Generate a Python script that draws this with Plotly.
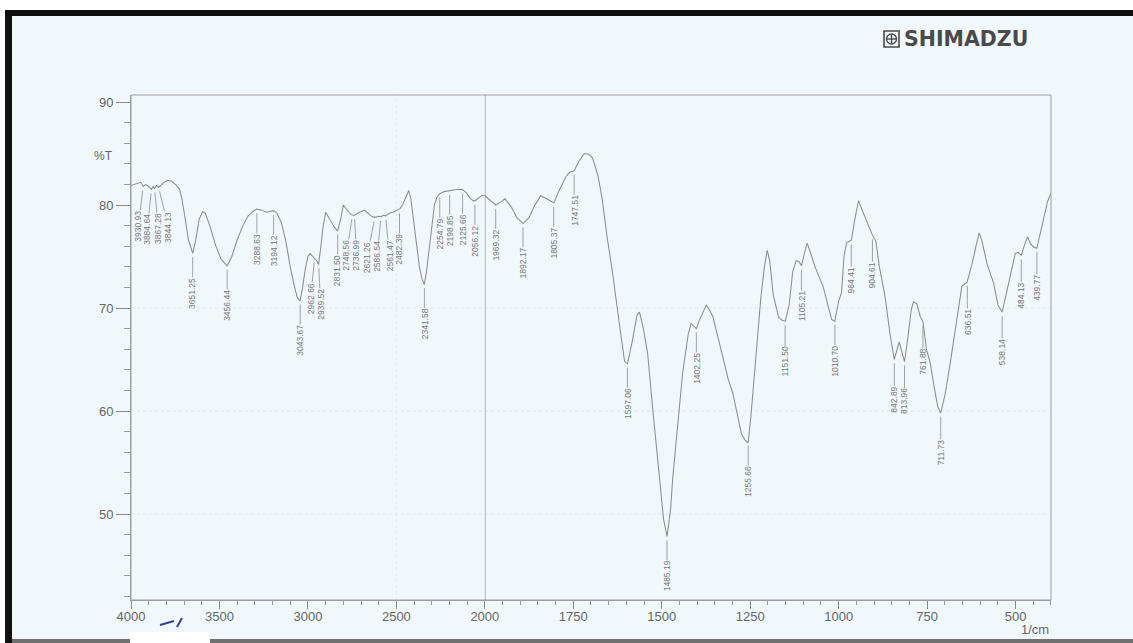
import numpy as np
import plotly.graph_objects as go

# FTIR spectrum (%T vs wavenumber, 1/cm)
wavenumber = [
    4000, 3965, 3945, 3931, 3915, 3895, 3885, 3875, 3867, 3856, 3844, 3820, 3795, 3770,
    3743, 3725, 3712, 3695, 3675, 3651, 3635, 3615, 3596, 3580, 3555, 3520, 3490, 3456,
    3430, 3400, 3370, 3340, 3310, 3289, 3260, 3236, 3215, 3194, 3175, 3150, 3125, 3100,
    3075, 3060, 3044, 3030, 3015, 3000, 2988, 2975, 2963, 2950, 2940, 2928, 2915, 2900,
    2885, 2860, 2845, 2832, 2815, 2800, 2785, 2765, 2749, 2737, 2720, 2700, 2682, 2660,
    2640, 2621, 2600, 2587, 2575, 2561, 2540, 2520, 2500, 2482, 2465, 2445, 2430, 2418,
    2405, 2390, 2370, 2355, 2342, 2330, 2315, 2300, 2285, 2270, 2255, 2230, 2199, 2160,
    2126, 2105, 2085, 2065, 2056, 2040, 2020, 2000,
    1985, 1969, 1955, 1943, 1925, 1910, 1892, 1875, 1860, 1842, 1825, 1805, 1790, 1771,
    1760, 1748, 1735, 1719, 1705, 1696, 1680, 1668, 1655, 1639, 1620, 1605, 1597, 1585,
    1570, 1563, 1552, 1540, 1525, 1507, 1495, 1485, 1475, 1469, 1455, 1441, 1425, 1417,
    1408, 1402, 1394, 1385, 1374, 1365, 1356, 1340, 1327, 1313, 1299, 1285, 1275, 1265,
    1256, 1248, 1240, 1230, 1220, 1210, 1202, 1195, 1185, 1170, 1160, 1151, 1140, 1130,
    1120, 1112, 1105, 1097, 1089, 1080, 1067, 1055, 1044, 1030, 1020, 1011, 1000, 992,
    985, 978, 964, 955, 944, 930, 915, 905, 895, 885, 869, 855, 843, 835,
    829, 822, 814, 805, 795, 789, 779, 770, 762, 752, 741, 730, 720, 712,
    700, 685, 670, 652, 637, 623, 612, 603, 595, 581, 562, 550, 538, 524,
    510, 501, 492, 484, 476, 466, 457, 448, 440, 425, 410, 400,
]
transmittance = [
    81.9, 82.1, 82.2, 81.8, 82.0, 81.7, 81.5, 81.8, 81.6, 81.9, 81.7, 82.1, 82.4, 82.3,
    81.9, 81.5, 80.6, 78.8, 76.6, 75.3, 76.5, 78.6, 79.35, 79.2, 78.0, 76.0, 74.7, 74.1,
    75.0, 76.6, 77.9, 78.9, 79.4, 79.6, 79.5, 79.3, 79.4, 79.45, 79.2, 78.3, 76.5, 74.0,
    72.0, 71.0, 70.7, 72.0, 73.8, 75.0, 75.3, 75.0, 74.8, 74.6, 74.2, 75.8, 77.8, 79.3,
    78.9, 78.2, 77.7, 77.5, 78.6, 80.0, 79.6, 79.2, 79.0, 79.0, 79.2, 79.4, 79.5, 79.2,
    78.9, 78.8, 78.9, 78.85, 79.0, 78.95, 79.2, 79.3, 79.5, 79.6, 80.0, 80.8, 81.4, 80.6,
    78.8, 76.5, 74.0, 72.8, 72.3, 73.5, 75.6, 78.0, 80.0, 80.8, 81.1, 81.3, 81.4, 81.5,
    81.5, 81.2, 80.7, 80.4, 80.4, 80.6, 80.9, 80.9,
    80.5, 80.0, 80.3, 80.6, 79.8, 78.8, 78.2, 78.8, 79.9, 80.9, 80.6, 80.2, 81.4, 82.75,
    83.2, 83.3, 84.2, 85.0, 84.9, 84.6, 82.8, 80.5, 77.0, 73.4, 68.5, 64.8, 64.6, 66.5,
    69.3, 69.6, 68.0, 65.6, 60.0, 53.5, 49.5, 47.8, 50.5, 53.5, 59.0, 63.7, 67.5, 68.5,
    68.2, 68.0, 68.8, 69.5, 70.3, 69.8, 69.2, 67.0, 65.3, 63.2, 61.7, 59.3, 57.8, 57.2,
    56.9, 59.5, 63.0, 67.0, 71.0, 74.0, 75.6, 74.6, 71.3, 69.1, 68.8, 68.7, 70.3, 73.5,
    74.6, 74.5, 74.1, 75.3, 76.3, 75.4, 74.0, 73.0, 72.1, 70.2, 68.9, 68.7, 70.7, 71.5,
    75.0, 76.3, 76.6, 78.5, 80.4, 79.2, 77.9, 77.1, 76.5, 74.0, 71.1, 67.5, 65.0, 66.0,
    66.7, 65.8, 64.8, 67.0, 69.8, 70.6, 70.4, 69.2, 68.7, 66.0, 64.6, 62.3, 60.4, 59.8,
    61.5, 64.6, 68.0, 72.1, 72.5, 74.3, 76.0, 77.3, 76.5, 74.3, 72.4, 70.3, 69.6, 71.75,
    73.8, 75.3, 75.4, 75.1, 76.0, 76.9, 76.2, 75.9, 75.8, 78.0, 80.3, 81.2,
]

# Peak-pick table
peak_wavenumbers = [
    3930.93, 3884.64, 3867.28, 3844.13, 3651.25, 3456.44, 3288.63, 3194.12, 3043.67,
    2962.66, 2939.52, 2831.50, 2748.56, 2736.99, 2621.26, 2586.54, 2561.47, 2482.39,
    2341.58, 2254.79, 2198.85, 2125.66, 2056.12, 1969.32, 1892.17, 1805.37, 1747.51,
    1597.06, 1485.19, 1402.25, 1255.66, 1151.50, 1105.21, 1010.70, 964.41, 904.61,
    842.89, 813.96, 761.88, 711.73, 636.51, 538.14, 484.13, 439.77,
]

# Axis tick values
y_ticks = [50, 60, 70, 80, 90]
x_ticks_high = [4000, 3500, 3000, 2500]
x_ticks_low = [2000, 1750, 1500, 1250, 1000, 750, 500]

# ---------------------------------------------------------------- layout constants
W, H = 1133, 643
ML, MR, MT, MB = 131, 82, 95, 43
PW, PH = W - ML - MR, H - MT - MB
SPLIT = 2000.0 / (2000.0 + 2 * 1600.0)   # 1/cm below 2000 drawn at double scale

def px_x(px):
    return (px - ML) / PW

def px_y(py):
    return (H - MB - py) / PH

# horizontal nudges (px) for crowded peak labels
label_shift = {
    3930.93: -5, 3884.64: -4, 3867.28: 4, 3844.13: 10,
    2962.66: -4, 2939.52: 2, 2748.56: -6, 2736.99: 2,
    2621.26: -8, 2586.54: -4, 2561.47: 4,
}

wn = np.array(wavenumber, dtype=float)
tr = np.array(transmittance, dtype=float)
hi = wn >= 2000
lo = wn <= 2000

LINE = "#8d8d8d"
TXT = "#666666"
BG = "#f1f8fb"
GRID = "#e1e9ed"

fig = go.Figure()
fig.add_trace(go.Scatter(x=wn[hi], y=tr[hi], xaxis="x", yaxis="y", mode="lines",
                         line=dict(color=LINE, width=1.05), showlegend=False, hoverinfo="skip"))
fig.add_trace(go.Scatter(x=wn[lo], y=tr[lo], xaxis="x2", yaxis="y", mode="lines",
                         line=dict(color=LINE, width=1.05), showlegend=False, hoverinfo="skip"))

# peak labels with leader lines
order = np.argsort(wn)
annotations = []
for w in peak_wavenumbers:
    t = float(np.interp(w, wn[order], tr[order]))
    annotations.append(dict(
        x=w, y=t, xref="x" if w >= 2000 else "x2", yref="y",
        text=f"{w:.2f}", textangle=-90, showarrow=True, arrowhead=0,
        arrowwidth=0.8, arrowcolor="#8c8c8c", standoff=4,
        ax=label_shift.get(w, 0), ay=40,
        font=dict(size=8.5, color="#777777", family="Liberation Sans Narrow, Liberation Sans, Arial"),
        borderpad=0,
    ))

annotations += [
    dict(x=px_x(103), y=px_y(156), xref="paper", yref="paper", text="%T", showarrow=False,
         font=dict(size=12, color=TXT, family="Liberation Sans, Arial"), xanchor="center", yanchor="middle"),
    dict(x=1.0, y=px_y(629), xref="paper", yref="paper", text="1/cm", showarrow=False,
         font=dict(size=13, color=TXT, family="Liberation Sans, Arial"), xanchor="right", yanchor="middle"),
    dict(x=px_x(902), y=px_y(39.5), xref="paper", yref="paper", text="SHIMADZU", showarrow=False,
         font=dict(size=20.5, color="#4a4a4a", family="DejaVu Sans", weight="bold"),
         xanchor="left", yanchor="middle"),
]

def rect(x0, y0, x1, y1, fill, line=None, lw=0):
    return dict(type="rect", xref="paper", yref="paper", layer="above",
                x0=px_x(x0), x1=px_x(x1), y0=px_y(y1), y1=px_y(y0),
                fillcolor=fill, line=dict(color=line or fill, width=lw))

def seg(x0, y0, x1, y1, color, lw):
    return dict(type="line", xref="paper", yref="paper", layer="above",
                x0=px_x(x0), x1=px_x(x1), y0=px_y(y0), y1=px_y(y1),
                line=dict(color=color, width=lw))

shapes = [
    # faint dotted chart-paper rules
    *[dict(type="line", xref="paper", yref="y", x0=0, x1=1, y0=v, y1=v, layer="below",
           line=dict(color=GRID, width=1, dash="dot")) for v in (50, 60, 70)],
    dict(type="line", xref="x", yref="paper", x0=2500, x1=2500, y0=0, y1=1, layer="below",
         line=dict(color=GRID, width=1, dash="dot")),
    # plot frame and the 2000 1/cm scale break
    dict(type="rect", xref="paper", yref="paper", x0=0, x1=1, y0=0, y1=1,
         line=dict(color="#a0a0a0", width=1), layer="above"),
    dict(type="line", xref="x2", yref="paper", x0=2000, x1=2000, y0=0, y1=1,
         line=dict(color="#6a6a6a", width=1), layer="above"),
    # page edges
    rect(0, 0, W, 10, "#ffffff"),
    rect(0, 0, 5, H, "#ffffff"),
    rect(5, 10, W, 16, "#111111"),
    rect(5, 10, 12, H, "#111111"),
    rect(12, 639, W, H, "#707070"),
    rect(130, 632, 210, H, "#ffffff"),
    # pen mark near the axis
    seg(160, 625, 174, 621, "#3a3f9c", 2),
    seg(177, 627, 182, 618, "#3a3f9c", 2),
    # logo emblem
    rect(884, 31, 899, 47, "rgba(0,0,0,0)", "#4a4a4a", 1.6),
    dict(type="circle", xref="paper", yref="paper", layer="above",
         x0=px_x(886.5), x1=px_x(896.5), y0=px_y(44), y1=px_y(34),
         line=dict(color="#4a4a4a", width=1.4)),
    seg(891.5, 34, 891.5, 44, "#4a4a4a", 1.4),
    seg(886.5, 39, 896.5, 39, "#4a4a4a", 1.4),
]

tickfont = dict(size=13, color=TXT, family="Liberation Sans, Arial")
xcommon = dict(ticks="outside", ticklen=8, tickcolor="#8a8a8a", showline=True,
               linecolor="#9a9a9a", linewidth=1, tickfont=tickfont, zeroline=False,
               showgrid=False, anchor="y", ticklabelstandoff=-4)

fig.update_layout(
    width=W, height=H,
    margin=dict(l=ML, r=MR, t=MT, b=MB, pad=0),
    paper_bgcolor=BG, plot_bgcolor=BG,
    xaxis=dict(domain=[0, SPLIT], range=[4000, 2000], tickmode="array", tickvals=x_ticks_high,
               minor=dict(tick0=0, dtick=100, ticks="outside", ticklen=4, tickcolor="#9a9a9a"),
               **xcommon),
    xaxis2=dict(domain=[SPLIT, 1], range=[2000, 400], tickmode="array", tickvals=x_ticks_low,
                minor=dict(tick0=0, dtick=50, ticks="outside", ticklen=4, tickcolor="#9a9a9a"),
                **xcommon),
    yaxis=dict(range=[41.65, 90.68], tickmode="array", tickvals=y_ticks, ticks="outside",
               ticklen=14, tickcolor="#8a8a8a", showline=True, linecolor="#9a9a9a",
               tickfont=tickfont, zeroline=False, showgrid=False, anchor="x",
               minor=dict(tick0=0, dtick=2, ticks="outside", ticklen=6, tickcolor="#9a9a9a")),
    annotations=annotations,
    shapes=shapes,
)

fig.write_html("out.html")
